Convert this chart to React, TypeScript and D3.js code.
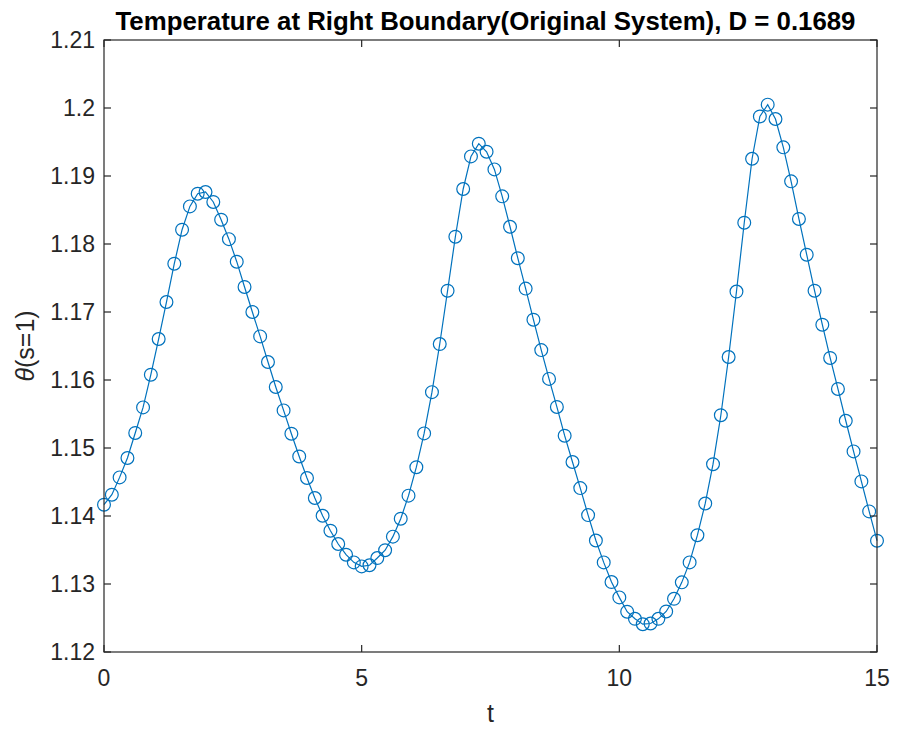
import React from 'react';
import * as d3 from 'd3';

const tValues = [
  0, 0.152, 0.303, 0.455, 0.606, 0.758, 0.909, 1.061, 1.212, 1.364,
  1.515, 1.667, 1.818, 1.970, 2.121, 2.273, 2.424, 2.576, 2.727, 2.879,
  3.030, 3.182, 3.333, 3.485, 3.636, 3.788, 3.939, 4.091, 4.242, 4.394,
  4.545, 4.697, 4.848, 5.000, 5.152, 5.303, 5.455, 5.606, 5.758, 5.909,
  6.061, 6.212, 6.364, 6.515, 6.667, 6.818, 6.970, 7.121, 7.273, 7.424,
  7.576, 7.727, 7.879, 8.030, 8.182, 8.333, 8.485, 8.636, 8.788, 8.939,
  9.091, 9.242, 9.394, 9.545, 9.697, 9.848, 10.000, 10.152, 10.303, 10.455,
  10.606, 10.758, 10.909, 11.061, 11.212, 11.364, 11.515, 11.667, 11.818, 11.970,
  12.121, 12.273, 12.424, 12.576, 12.727, 12.879, 13.030, 13.182, 13.333, 13.485,
  13.636, 13.788, 13.939, 14.091, 14.242, 14.394, 14.545, 14.697, 14.848, 15.000,
];

const thetaValues = [
  1.14166, 1.14313, 1.14568, 1.14853, 1.15221, 1.15597, 1.16078, 1.16603, 1.17147, 1.1771,
  1.1821, 1.18553, 1.1874, 1.18765, 1.18618, 1.18357, 1.18071, 1.1774, 1.17368, 1.17,
  1.16641, 1.16265, 1.15897, 1.15553, 1.1521, 1.14876, 1.14559, 1.14265, 1.14004, 1.13784,
  1.13588, 1.13431, 1.13318, 1.13259, 1.13276, 1.13382, 1.13497, 1.13696, 1.1396, 1.14299,
  1.14718, 1.15215, 1.15821, 1.16529, 1.17313, 1.18107, 1.18809, 1.19288, 1.19475, 1.19357,
  1.19097, 1.18701, 1.18254, 1.17791, 1.17344, 1.16887, 1.1644, 1.16016, 1.15604, 1.15181,
  1.14794, 1.1441, 1.14013, 1.1364, 1.13318, 1.13029, 1.12803, 1.12593, 1.12488, 1.12409,
  1.12419, 1.12488, 1.12596, 1.12782, 1.13024, 1.13318, 1.13718, 1.14184, 1.14762, 1.15482,
  1.16338, 1.17301, 1.18313, 1.19254, 1.19876, 1.20049, 1.19838, 1.19421, 1.18921, 1.18368,
  1.17843, 1.17313, 1.16813, 1.16324, 1.15868, 1.15401, 1.1495, 1.14509, 1.14068, 1.13637,
];

const xTicks = [0, 5, 10, 15];
const yTicks = [1.12, 1.13, 1.14, 1.15, 1.16, 1.17, 1.18, 1.19, 1.2, 1.21];
const yTickLabels = ['1.12', '1.13', '1.14', '1.15', '1.16', '1.17', '1.18', '1.19', '1.2', '1.21'];
const titleText = 'Temperature at Right Boundary(Original System), D = 0.1689';

export default function App() {
  const W = 898;
  const H = 730;
  const left = 104, right = 877, top = 40, bottom = 652;
  const x = d3.scaleLinear().domain([0, 15]).range([left, right]);
  const y = d3.scaleLinear().domain([1.12, 1.21]).range([bottom, top]);
  const line = d3
    .line<number>()
    .x((_, i) => x(tValues[i]))
    .y((d) => y(d));
  const axisColor = '#262626';
  const blue = '#0072BD';
  const tickLen = 7;
  const font = "'Liberation Sans', Arial, Helvetica, sans-serif";

  return (
    <svg
      width={W}
      height={H}
      style={{ position: 'absolute', left: 0, top: 0, background: '#fff' }}
      fontFamily={font}
    >
      <rect x={0} y={0} width={W} height={H} fill="#fff" />
      <rect x={left} y={top} width={right - left} height={bottom - top} fill="#fff" />
      <path d={line(thetaValues) || ''} fill="none" stroke={blue} strokeWidth={1.2} />
      {thetaValues.map((v, i) => (
        <circle key={i} cx={x(tValues[i])} cy={y(v)} r={6.4} fill="none" stroke={blue} strokeWidth={1.2} />
      ))}
      <rect x={left} y={top} width={right - left} height={bottom - top} fill="none" stroke={axisColor} strokeWidth={1.2} />
      {xTicks.map((t) => (
        <g key={'x' + t}>
          <line x1={x(t)} x2={x(t)} y1={bottom} y2={bottom - tickLen} stroke={axisColor} strokeWidth={1.2} />
          <line x1={x(t)} x2={x(t)} y1={top} y2={top + tickLen} stroke={axisColor} strokeWidth={1.2} />
          <text x={x(t)} y={bottom + 34} textAnchor="middle" fontSize={23} fill={axisColor}>
            {String(t)}
          </text>
        </g>
      ))}
      {yTicks.map((v, i) => (
        <g key={'y' + i}>
          <line x1={left} x2={left + tickLen} y1={y(v)} y2={y(v)} stroke={axisColor} strokeWidth={1.2} />
          <line x1={right} x2={right - tickLen} y1={y(v)} y2={y(v)} stroke={axisColor} strokeWidth={1.2} />
          <text x={left - 9} y={y(v) + 8} textAnchor="end" fontSize={23} fill={axisColor}>
            {yTickLabels[i]}
          </text>
        </g>
      ))}
      <text x={(left + right) / 2 - 5} y={30} textAnchor="middle" fontSize={25.8} fontWeight="bold" fill="#000">
        {titleText}
      </text>
      <text x={(left + right) / 2} y={722} textAnchor="middle" fontSize={25} fill={axisColor}>
        t
      </text>
      <text
        transform={`translate(34, ${(top + bottom) / 2}) rotate(-90)`}
        textAnchor="middle"
        fontSize={25}
        fill={axisColor}
      >
        <tspan fontStyle="italic">θ</tspan>
        <tspan>(s=1)</tspan>
      </text>
    </svg>
  );
}
